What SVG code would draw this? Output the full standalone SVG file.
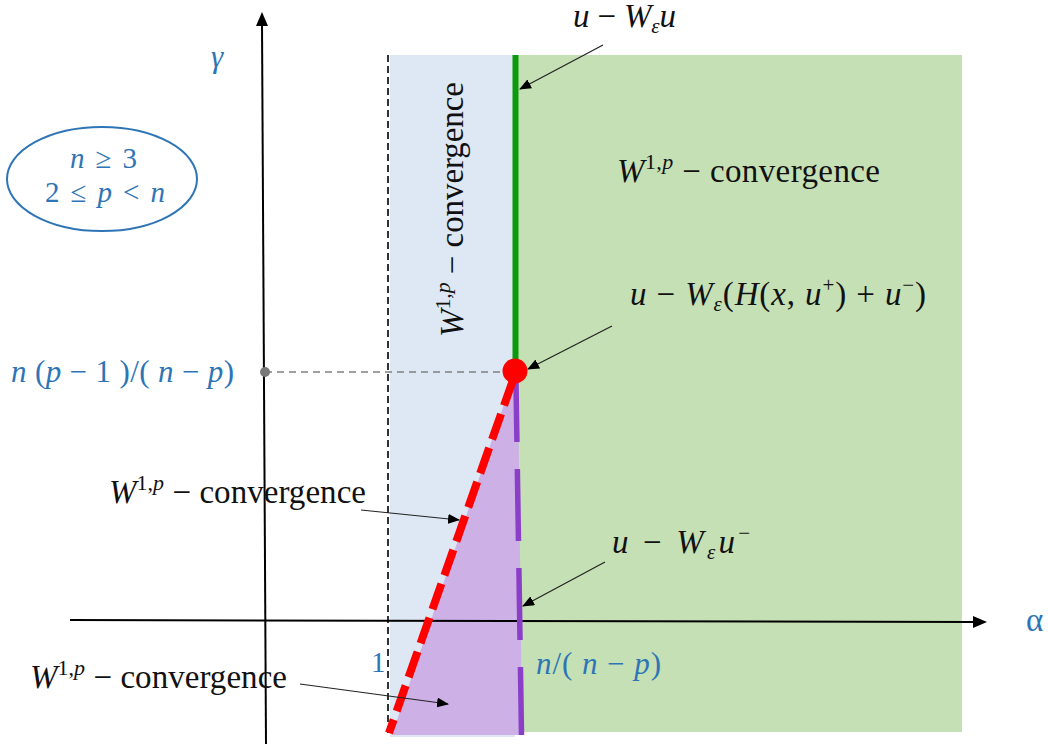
<svg xmlns="http://www.w3.org/2000/svg" width="1048" height="744" viewBox="0 0 1048 744">
<style>
.m{font-family:"Liberation Serif",serif;font-size:33px;fill:#111}
.b{font-family:"Liberation Serif",serif;fill:#2E75B6}
.i{font-style:italic}
.ax{stroke:#000;stroke-width:2;fill:none}
.cn{stroke:#222;stroke-width:1.2;fill:none;marker-end:url(#ah)}
</style>
<defs>
<marker id="ah" viewBox="0 0 12 10" refX="11" refY="5" markerWidth="12" markerHeight="10" markerUnits="userSpaceOnUse" orient="auto"><path d="M0,0 L12,5 L0,10 Z" fill="#000"/></marker>
</defs>
<rect width="1048" height="744" fill="#fff"/>
<g id="regions">
<rect x="390" y="55" width="125" height="682" fill="#DDE8F4"/>
<rect x="515" y="55" width="447" height="677" fill="#C5E0B4"/>
<polygon points="514,375 392,735 522,735 518,375" fill="#CDB0E6"/>
<line x1="388" y1="55" x2="388" y2="737" stroke="#000" stroke-width="1.6" stroke-dasharray="7,4"/>
</g>
<g id="axes">
<line class="ax" x1="70" y1="620" x2="975" y2="622"/>
<path d="M973,616 L987,622 L973,628 Z" fill="#000"/>
<line class="ax" x1="266" y1="744" x2="262" y2="24"/>
<path d="M256,26 L262,12 L268,26 Z" fill="#000"/>
</g>
<g id="boundaries">
<line x1="515.5" y1="55" x2="515.5" y2="370" stroke="#0A9A0A" stroke-width="6"/>
<line x1="516" y1="383" x2="521.5" y2="735" stroke="#8B3FC8" stroke-width="5.5" stroke-dasharray="72,27" stroke-dashoffset="13"/>
<line x1="513" y1="380" x2="389" y2="733" stroke="#FF0000" stroke-width="8" stroke-dasharray="27,9"/>
<line x1="265" y1="372" x2="505" y2="372" stroke="#808080" stroke-width="1.6" stroke-dasharray="7,5"/>
<circle cx="265" cy="372" r="5" fill="#777"/>
<circle id="critical-point" cx="515" cy="371" r="12.5" fill="#FF0000"/>
</g>
<g id="connectors">
<line class="cn" x1="603" y1="45" x2="520" y2="89"/>
<line class="cn" x1="612" y1="326" x2="528" y2="369"/>
<line class="cn" x1="361" y1="510" x2="459" y2="520"/>
<line class="cn" x1="605" y1="562" x2="523" y2="606"/>
<line class="cn" x1="300" y1="684" x2="448" y2="704"/>
</g>
<g id="label-gamma"><text class="b i" x="211" y="67" font-size="31">γ</text></g>
<g id="label-alpha"><text class="b" x="1026" y="631" font-size="33">α</text></g>
<g id="label-conditions">
<ellipse cx="102" cy="179" rx="95" ry="52" fill="none" stroke="#2E75B6" stroke-width="2"/>
<text class="b" x="70" y="168" font-size="29" textLength="67" lengthAdjust="spacing"><tspan class="i">n</tspan> ≥ 3</text>
<text class="b" x="45" y="202" font-size="29" textLength="120" lengthAdjust="spacing">2 ≤ <tspan class="i">p</tspan> &lt; <tspan class="i">n</tspan></text>
</g>
<g id="label-top">
<text class="m" x="573" y="27" textLength="103" lengthAdjust="spacing"><tspan class="i">u</tspan> − <tspan class="i">W</tspan><tspan class="i" font-size="21" dy="6">ε</tspan><tspan class="i" dy="-6">u</tspan></text>
</g>
<g id="label-green-region">
<text class="m" x="617" y="182" textLength="263" lengthAdjust="spacing"><tspan class="i">W</tspan><tspan font-size="22" dy="-13">1,<tspan class="i">p</tspan></tspan><tspan dy="13"> − convergence</tspan></text>
</g>
<g id="label-blue-region">
<text class="m" transform="translate(463,337) rotate(-90)" x="0" y="0" textLength="255" lengthAdjust="spacing"><tspan class="i">W</tspan><tspan font-size="22" dy="-13">1,<tspan class="i">p</tspan></tspan><tspan dy="13"> − convergence</tspan></text>
</g>
<g id="label-critical">
<text class="m" x="630" y="305" textLength="296" lengthAdjust="spacing"><tspan class="i">u</tspan> − <tspan class="i">W</tspan><tspan class="i" font-size="21" dy="6">ε</tspan><tspan dy="-6">(</tspan><tspan class="i">H</tspan>(<tspan class="i">x</tspan>, <tspan class="i">u</tspan><tspan font-size="21" dy="-13">+</tspan><tspan dy="13">)  + </tspan><tspan class="i">u</tspan><tspan font-size="21" dy="-13">−</tspan><tspan dy="13">)</tspan></text>
</g>
<g id="label-gamma-value">
<text class="b" x="11" y="382" font-size="31" textLength="223" lengthAdjust="spacing"><tspan class="i">n</tspan> (<tspan class="i">p</tspan> − 1 )/( <tspan class="i">n</tspan> − <tspan class="i">p</tspan>)</text>
</g>
<g id="label-red-line">
<text class="m" x="109" y="503" textLength="257" lengthAdjust="spacing"><tspan class="i">W</tspan><tspan font-size="22" dy="-13">1,<tspan class="i">p</tspan></tspan><tspan dy="13"> − convergence</tspan></text>
</g>
<g id="label-purple-line">
<text class="m" x="612" y="553" textLength="138" lengthAdjust="spacing"><tspan class="i">u</tspan> − <tspan class="i">W</tspan><tspan class="i" font-size="21" dy="6">ε</tspan><tspan class="i" dy="-6">u</tspan><tspan font-size="21" dy="-13">−</tspan></text>
</g>
<g id="label-alpha-values">
<text class="b" x="371" y="672" font-size="29">1</text>
<text class="b" x="536" y="674" font-size="31" textLength="125" lengthAdjust="spacing"><tspan class="i">n</tspan>/( <tspan class="i">n</tspan> − <tspan class="i">p</tspan>)</text>
</g>
<g id="label-purple-region">
<text class="m" x="30" y="688" textLength="257" lengthAdjust="spacing"><tspan class="i">W</tspan><tspan font-size="22" dy="-13">1,<tspan class="i">p</tspan></tspan><tspan dy="13"> − convergence</tspan></text>
</g>
</svg>
